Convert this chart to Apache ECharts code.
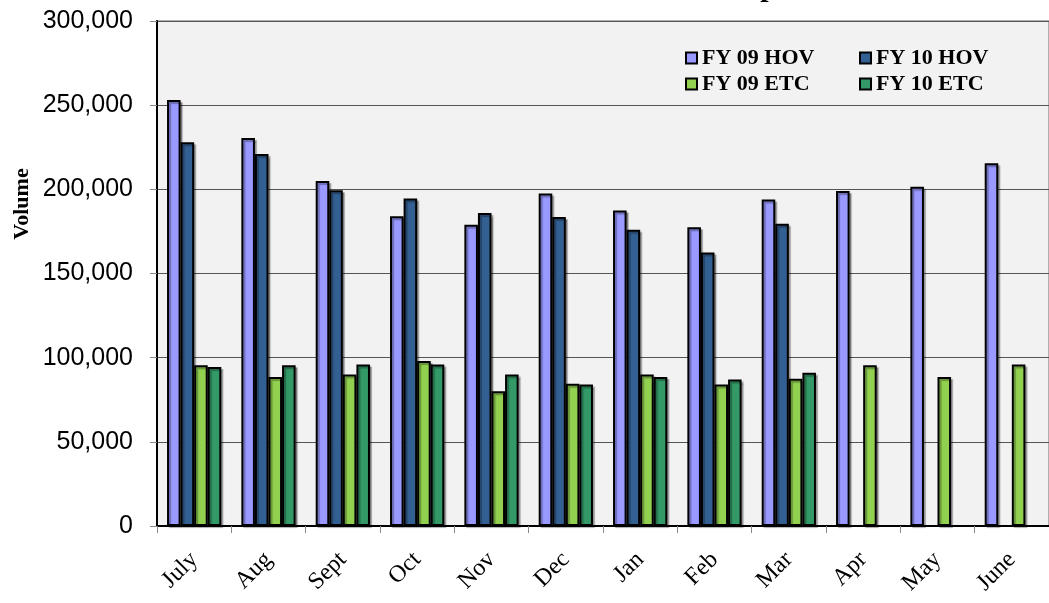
<!DOCTYPE html>
<html>
<head>
<meta charset="utf-8">
<script src="https://cdn.jsdelivr.net/npm/echarts@6/dist/echarts.min.js"></script>
<style>
html,body{margin:0;padding:0;background:#fff;}
#chart{width:1049px;height:603px;}
</style>
</head>
<body>
<div id="chart"></div>
<script>
var months = ['July','Aug','Sept','Oct','Nov','Dec','Jan','Feb','Mar','Apr','May','June'];
var fy09Hov = [253000, 230500, 205000, 184000, 179000, 197500, 187500, 177500, 194000, 199000, 201500, 215500];
var fy10Hov = [228000, 221000, 199500, 194500, 186000, 183500, 176000, 162500, 179500, null, null, null];
var fy09Etc = [95500, 88500, 90000, 98000, 80000, 84500, 90000, 84000, 87500, 95500, 88500, 96000];
var fy10Etc = [94500, 95500, 96000, 96000, 90000, 84000, 88500, 87000, 91000, null, null, null];
var yTicks = [0, 50000, 100000, 150000, 200000, 250000, 300000];

var chart = echarts.init(document.getElementById('chart'));
function fmt(v){ return String(v).replace(/\B(?=(\d{3})+(?!\d))/g, ','); }
function bar(name, data, color){
  return {
    name: name, type: 'bar', data: data, barGap: '0%', barCategoryGap: '27%',
    itemStyle: { color: color, borderColor: '#000', borderWidth: 2,
      shadowColor: 'rgba(0,0,0,0.3)', shadowOffsetX: 2, shadowOffsetY: 2, shadowBlur: 1 }
  };
}
var legendText = { fontFamily: 'Liberation Serif', fontWeight: 'bold', fontSize: 22, color: '#000' };
chart.setOption({
  animation: false,
  title: {
    text: 'HOV and ETC Volume Comparison', left: 388, top: -32,
    textStyle: { fontFamily: 'Liberation Serif', fontWeight: 'bold', fontSize: 30, color: '#000' }
  },
  legend: [
    { data: ['FY 09 HOV', 'FY 09 ETC'], orient: 'vertical', left: 680, top: 42,
      itemWidth: 11, itemHeight: 11, itemGap: 4, itemTextGap: 4, icon: 'rect', textStyle: legendText },
    { data: ['FY 10 HOV', 'FY 10 ETC'], orient: 'vertical', left: 854, top: 42,
      itemWidth: 11, itemHeight: 11, itemGap: 4, itemTextGap: 4, icon: 'rect', textStyle: legendText }
  ],
  grid: { left: 157, top: 21, bottom: 77, right: -8, show: true, backgroundColor: '#F2F2F2',
    borderColor: '#999', borderWidth: 1.5 },
  xAxis: {
    type: 'category', data: months,
    axisLine: { lineStyle: { color: '#000', width: 2 } },
    axisTick: { show: true, length: 7, lineStyle: { color: '#888', width: 1 } },
    axisLabel: { rotate: 45, margin: 30, fontFamily: 'Liberation Serif', fontSize: 24, color: '#000', interval: 0 }
  },
  yAxis: {
    type: 'value', min: yTicks[0], max: yTicks[yTicks.length - 1], interval: yTicks[1] - yTicks[0],
    axisLine: { show: true, lineStyle: { color: '#000', width: 2 } },
    axisTick: { show: true, length: 7, lineStyle: { color: '#888', width: 1 } },
    splitLine: { lineStyle: { color: '#555', width: 1 } },
    axisLabel: { margin: 24, fontFamily: 'Liberation Sans', fontSize: 25, color: '#000', formatter: fmt }
  },
  graphic: [{
    type: 'text', x: 22, y: 204, rotation: Math.PI / 2,
    style: { text: 'Volume', fontFamily: 'Liberation Serif', fontWeight: 'bold', fontSize: 22,
      fill: '#000', textAlign: 'center', textVerticalAlign: 'middle' }
  }],
  series: [
    bar('FY 09 HOV', fy09Hov, '#9999FF'),
    bar('FY 10 HOV', fy10Hov, '#336092'),
    bar('FY 09 ETC', fy09Etc, '#92D050'),
    bar('FY 10 ETC', fy10Etc, '#339966')
  ]
});
</script>
</body>
</html>
